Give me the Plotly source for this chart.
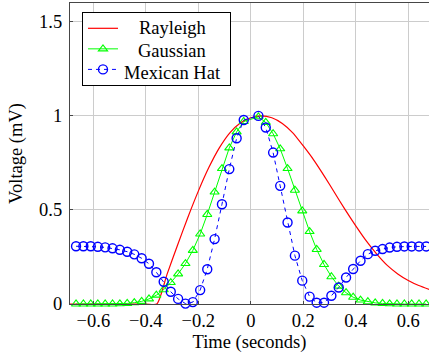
import plotly.graph_objects as go

# ---- data ----
ray_x = [-0.70, -0.40, -0.358, -0.32, -0.28, -0.24, -0.20, -0.16, -0.12, -0.08, -0.04, 0.00,
         0.04, 0.08, 0.12, 0.16, 0.20, 0.24, 0.28, 0.32, 0.36, 0.40, 0.44, 0.48,
         0.52, 0.56, 0.60, 0.64, 0.70]
ray_y = [0.0, 0.0, 0.0, 0.155, 0.31, 0.46, 0.60, 0.725, 0.83, 0.91, 0.962, 0.99,
         1.0, 0.99, 0.96, 0.91, 0.84, 0.765, 0.68, 0.59, 0.50, 0.415, 0.335, 0.265,
         0.205, 0.16, 0.125, 0.098, 0.068]

t_x = [-0.666, -0.638, -0.610, -0.583, -0.555, -0.527, -0.499, -0.471, -0.444, -0.416,
       -0.388, -0.360, -0.332, -0.305, -0.277, -0.249, -0.221, -0.193, -0.166, -0.138,
       -0.110, -0.082, -0.054, -0.027,
       0.029, 0.057, 0.085, 0.112, 0.140, 0.168, 0.196, 0.224, 0.251, 0.279,
       0.307, 0.335, 0.363, 0.390, 0.418, 0.446, 0.474, 0.502, 0.529, 0.557,
       0.585, 0.613, 0.641, 0.668]

gauss_y = [0.0, 0.0, 0.0, 0.0, 0.0, 0.0, 0.001, 0.003, 0.007, 0.014,
           0.027, 0.047, 0.076, 0.114, 0.160, 0.215, 0.285, 0.372, 0.476, 0.595,
           0.720, 0.830, 0.915, 0.970,
           0.995, 0.965, 0.905, 0.825, 0.720, 0.605, 0.495, 0.385, 0.290, 0.210,
           0.145, 0.095, 0.060, 0.036, 0.021, 0.012, 0.006, 0.003, 0.001, 0.0,
           0.0, 0.0, 0.0, 0.0]

mex_y = [0.307, 0.307, 0.307, 0.304, 0.301, 0.296, 0.288, 0.278, 0.264, 0.243,
         0.214, 0.169, 0.118, 0.065, 0.027, 0.002, 0.010, 0.074, 0.185, 0.345,
         0.530, 0.717, 0.881, 0.978,
         1.000, 0.938, 0.805, 0.628, 0.433, 0.257, 0.124, 0.039, 0.007, 0.007,
         0.044, 0.088, 0.141, 0.186, 0.230, 0.265, 0.283, 0.292, 0.300, 0.304,
         0.306, 0.306, 0.306, 0.306]

series_names = ["Rayleigh", "Gaussian", "Mexican Hat"]

x_ticks = [-0.6, -0.4, -0.2, 0.0, 0.2, 0.4, 0.6]
x_tick_text = ["\u22120.6", "\u22120.4", "\u22120.2", "0", "0.2", "0.4", "0.6"]
y_ticks = [0, 0.5, 1, 1.5]
y_tick_text = ["0", "0.5", "1", "1.5"]

FONT = "Liberation Serif, Times New Roman, serif"
FS = 18.5
NB = "\u00a0"
PAD = NB * 30  # legend entries carry only the symbol; labels are centred annotations

fig = go.Figure()
fig.add_trace(go.Scatter(
    x=ray_x, y=ray_y, mode="lines", name=PAD,
    line=dict(color="#ff0000", width=1.2, shape="spline", smoothing=0.6),
))
fig.add_trace(go.Scatter(
    x=t_x, y=gauss_y, mode="lines+markers", name=PAD,
    line=dict(color="#00ff00", width=1),
    marker=dict(symbol="triangle-up-open", size=8, color="#00ff00", line=dict(width=1.1)),
    cliponaxis=False,
))
fig.add_trace(go.Scatter(
    x=t_x, y=mex_y, mode="lines+markers", name=PAD,
    line=dict(color="#0000ff", width=1, dash="4px,4px"),
    marker=dict(symbol="circle-open", size=9, color="#0000ff", line=dict(width=1.4)),
    cliponaxis=False,
))

axis_col = "rgb(70,70,70)"
grid_col = "rgb(204,204,204)"

# plot area: x 70..429 px, y 3..304 px
leg_label_y = [0.917, 0.842, 0.767]
annotations = [
    dict(text=name, xref="paper", yref="paper", x=0.285, y=yy,
         xanchor="center", yanchor="middle", showarrow=False,
         font=dict(family=FONT, size=FS, color="black"))
    for name, yy in zip(series_names, leg_label_y)
]

fig.update_layout(
    width=429, height=356,
    margin=dict(l=70, r=0, t=3, b=52),
    paper_bgcolor="white", plot_bgcolor="white",
    font=dict(family=FONT, size=FS, color="black"),
    showlegend=True,
    legend=dict(
        x=0.0334, y=0.97, xanchor="left", yanchor="top",
        bgcolor="white", bordercolor="black", borderwidth=1,
        font=dict(family=FONT, size=13.5, color="black"),
        tracegroupgap=0,
    ),
    annotations=annotations,
    xaxis=dict(
        range=[-0.689, 0.679], tickvals=x_ticks, ticktext=x_tick_text,
        showgrid=True, gridcolor=grid_col, gridwidth=1,
        showline=True, linecolor=axis_col, linewidth=1.2, mirror=True,
        ticks="inside", ticklen=3, tickcolor=axis_col, zeroline=False,
        title=dict(text="Time (seconds)", standoff=4, font=dict(family=FONT, size=FS)),
    ),
    yaxis=dict(
        range=[0, 1.6], tickvals=y_ticks, ticktext=y_tick_text,
        showgrid=True, gridcolor=grid_col, gridwidth=1,
        showline=True, linecolor=axis_col, linewidth=1.2, mirror=False,
        ticks="inside", ticklen=3, tickcolor=axis_col, zeroline=False,
        ticklabelstandoff=3,
        title=dict(text="Voltage (mV)", standoff=11, font=dict(family=FONT, size=FS)),
    ),
)

fig.write_html("out.html", config={"displayModeBar": False},
               post_script="document.body.style.margin='0';")
